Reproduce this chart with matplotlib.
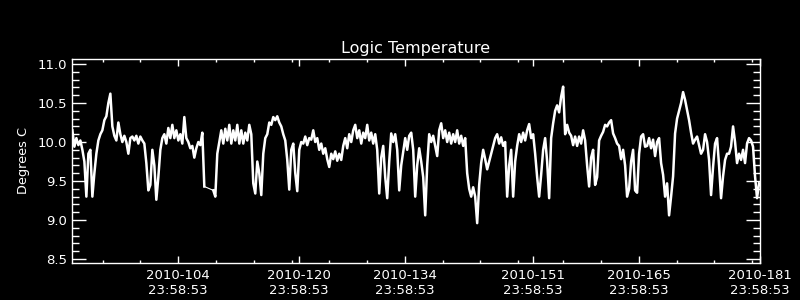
import numpy as np
import matplotlib
matplotlib.use("Agg")
import matplotlib.pyplot as plt

# 23:58:53 as a fraction of a day
DAY_FRAC = (23 * 3600 + 58 * 60 + 53) / 86400.0

label_days = [104, 120, 134, 151, 165, 181]
tick_labels = ["2010-%03d\n23:58:53" % d for d in label_days]
minor_days = [94, 99, 109, 114, 119, 124, 129, 139, 144, 149, 155, 160, 170, 175, 180]

# sampling of the two stretches of data (day of year, step in days)
seg1_start = 89.98
seg2_start = 108.64
step_days = 0.2647

temp_seg1 = [
    10.15, 9.94, 10.05, 9.96, 10.02, 9.90, 9.75, 9.30, 9.85, 9.90,
    9.30, 9.60, 9.85, 10.02, 10.10, 10.15, 10.28, 10.33, 10.50, 10.62,
    10.20, 10.08, 10.02, 10.25, 10.10, 10.00, 10.08, 10.00, 9.85, 10.05,
    10.07, 10.02, 10.08, 9.98, 10.07, 10.02, 9.98, 9.73, 9.38, 9.45,
    9.90, 9.70, 9.26, 9.55, 9.90, 10.05, 10.10, 9.98, 10.18, 10.05,
    10.22, 10.05, 10.15, 10.02, 10.10, 9.98, 10.32, 10.05, 10.00, 9.92,
    9.95, 9.80, 9.92, 10.00, 9.96, 10.12, 9.43,
]

temp_seg2 = [
    # days ~108.6 - 121.5
    9.38, 9.30, 9.85, 10.00, 10.15, 9.98, 10.17, 10.02, 10.22, 9.98,
    10.15, 10.02, 10.22, 9.98, 10.15, 9.98, 10.12, 10.02, 10.22, 10.10,
    9.47, 9.34, 9.75, 9.60, 9.32, 9.85, 10.05, 10.10, 10.25, 10.22,
    10.32, 10.28, 10.33, 10.25, 10.20, 10.10, 10.02, 9.77, 9.39, 9.90,
    9.98, 9.60, 9.37, 9.90, 10.00, 9.98, 10.07, 9.96, 10.05,
    # days ~121.8 - 152
    10.03, 10.15, 10.00, 10.05, 9.90, 9.98, 9.85, 9.92, 9.78, 9.68,
    9.85, 9.78, 9.88, 9.76, 9.85, 9.77, 9.95, 10.05, 9.92, 10.10,
    10.00, 10.15, 10.22, 10.05, 10.15, 9.98, 10.12, 10.05, 10.22, 10.02,
    10.12, 9.98, 10.10, 9.90, 9.34, 9.80, 9.95, 9.55, 9.28, 9.75,
    10.11, 10.00, 10.10, 9.90, 9.38, 9.70, 9.88, 10.05, 9.90, 10.08,
    10.12, 9.90, 9.30, 9.70, 9.92, 9.75, 9.55, 9.06, 9.70, 10.10,
    10.00, 10.08, 9.95, 9.82, 10.15, 10.24, 10.05, 10.15, 10.00, 10.12,
    9.98, 10.10, 10.00, 10.15, 9.98, 10.08, 9.95, 10.05, 9.60, 9.40,
    9.30, 9.42, 9.30, 8.96, 9.45, 9.73, 9.90, 9.78, 9.65, 9.75,
    9.85, 9.95, 10.05, 10.10, 9.98, 10.06, 9.95, 10.00, 9.30, 9.70,
    9.90, 9.30, 9.75, 9.95, 10.10, 10.00, 10.12, 10.02, 10.15, 10.23,
    10.05, 10.10, 9.85, 9.55, 9.30,
    # days ~152 - 181
    9.58, 9.90, 10.05, 9.75, 9.28, 10.05, 10.24, 10.40, 10.47, 10.38,
    10.58, 10.71, 10.10, 10.22, 10.12, 10.08, 9.96, 10.07, 9.95, 10.07,
    9.98, 10.15, 10.02, 9.70, 9.43, 9.80, 9.90, 9.45, 9.55, 10.02,
    10.08, 10.13, 10.22, 10.20, 10.25, 10.28, 10.11, 10.05, 9.98, 9.95,
    9.78, 9.90, 9.70, 9.30, 9.40, 9.75, 9.90, 9.38, 9.35, 9.85,
    10.07, 10.10, 9.94, 9.95, 10.05, 9.92, 10.03, 9.82, 10.00, 10.05,
    9.73, 9.58, 9.30, 9.47, 9.06, 9.30, 9.56, 10.11, 10.30, 10.40,
    10.50, 10.64, 10.54, 10.41, 10.28, 10.12, 9.98, 10.03, 10.07, 9.96,
    9.85, 9.90, 10.10, 10.00, 9.77, 9.32, 9.68, 9.98, 10.05, 9.70,
    9.28, 9.56, 9.77, 9.85, 9.85, 9.94, 10.20, 10.00, 9.73, 9.85,
    9.77, 9.90, 9.73, 9.98, 10.05, 10.02, 9.94, 9.56, 9.28, 9.47,
]


def main():
    t1 = seg1_start + DAY_FRAC + np.arange(len(temp_seg1)) * step_days
    t2 = seg2_start + DAY_FRAC + np.arange(len(temp_seg2)) * step_days

    fig = plt.figure(figsize=(8, 3), dpi=100, facecolor="black")
    ax = fig.add_axes([0.09, 0.1233, 0.86, 0.68])
    ax.set_facecolor("black")

    # dense telemetry -> thick band; the data gap is a single thin line
    ax.plot(t1, temp_seg1, color="white", linewidth=1.8)
    ax.plot(t2, temp_seg2, color="white", linewidth=1.8)
    ax.plot([t1[-1], t2[0]], [temp_seg1[-1], temp_seg2[0]], color="white", linewidth=0.8)

    ax.set_xlim(89.93 + DAY_FRAC, 181.03 + DAY_FRAC)
    ax.set_ylim(8.449, 11.064)

    ax.set_xticks([d + DAY_FRAC for d in label_days])
    ax.set_xticklabels(tick_labels)
    ax.set_xticks([d + DAY_FRAC for d in minor_days], minor=True)
    ax.set_yticks(np.arange(8.5, 11.01, 0.5))
    ax.set_yticklabels(["%.1f" % v for v in np.arange(8.5, 11.01, 0.5)])
    ax.set_yticks(np.arange(8.5, 11.01, 0.1), minor=True)

    for s in ax.spines.values():
        s.set_color("white")
        s.set_linewidth(1.0)

    ax.tick_params(axis="y", which="major", direction="in", length=10, width=1,
                   left=True, right=True, colors="white", labelsize=9.5, pad=3.6)
    ax.tick_params(axis="y", which="minor", direction="in", length=5, width=1,
                   left=True, right=True, colors="white")
    ax.tick_params(axis="x", which="major", direction="in", length=4.8, width=1,
                   bottom=True, top=True, colors="white", labelsize=9.5, pad=4.3)
    ax.tick_params(axis="x", which="minor", direction="in", length=2.4, width=1,
                   bottom=True, top=True, colors="white")

    ax.set_title("Logic Temperature", color="white", fontsize=11.5, pad=4.5)
    fig.text(23 / 800, 1 - 161 / 300, "Degrees C", rotation=90, color="white",
             ha="center", va="center", fontsize=9.3)

    fig.savefig("out.png", dpi=100, facecolor="black")
    plt.close(fig)


if __name__ == "__main__":
    main()
